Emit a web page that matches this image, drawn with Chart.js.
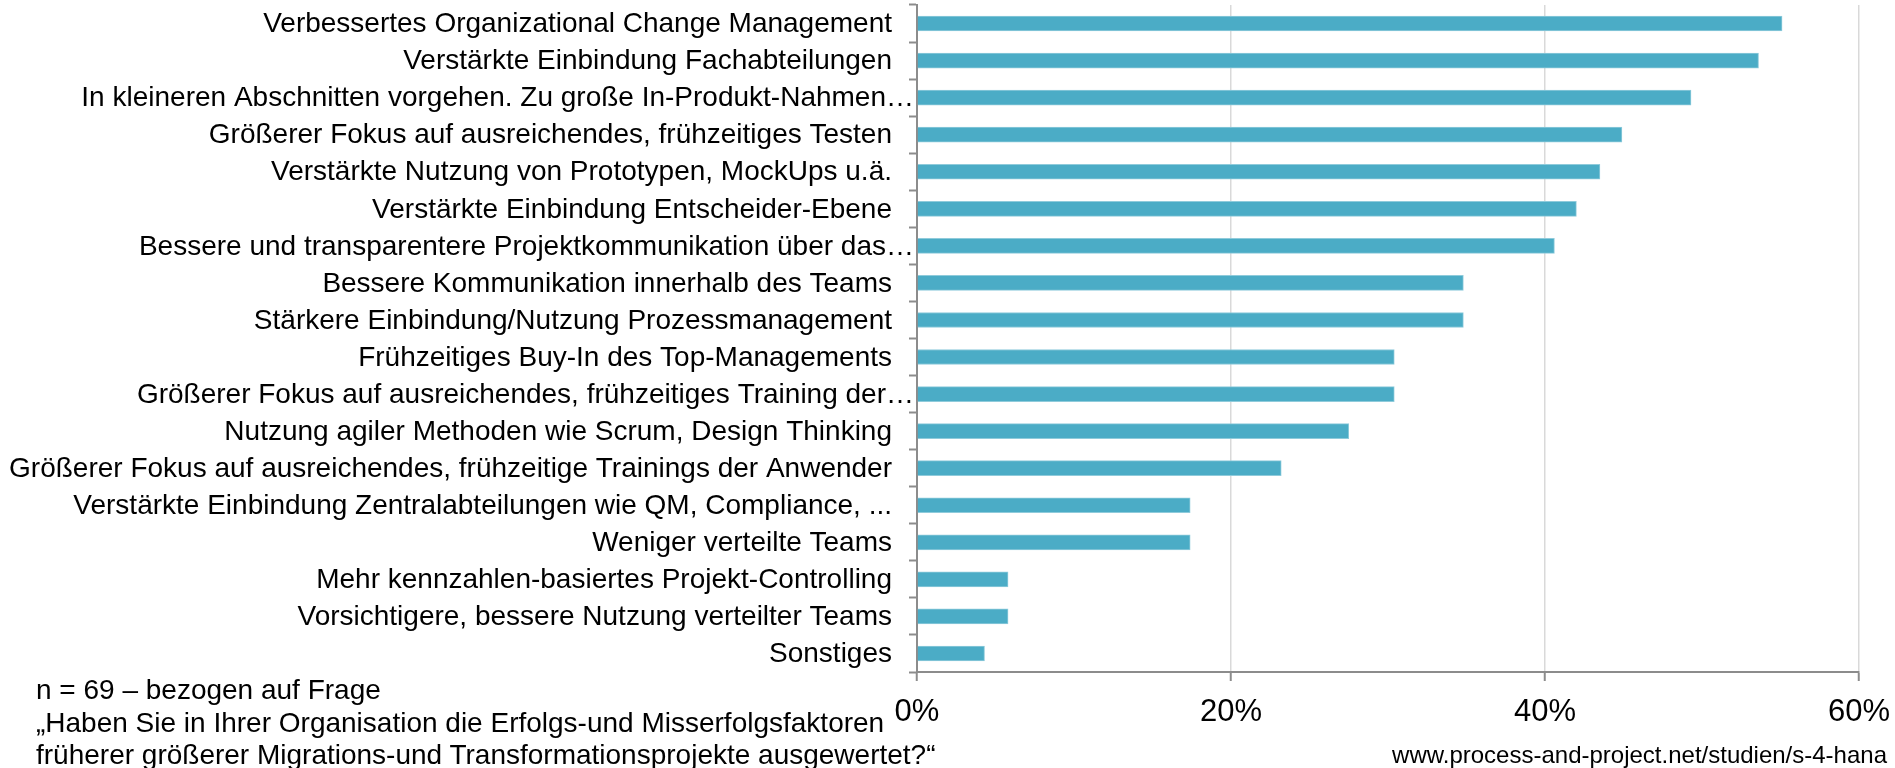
<!DOCTYPE html>
<html lang="de">
<head>
<meta charset="utf-8">
<title>Erfolgsfaktoren</title>
<script src="https://cdn.jsdelivr.net/npm/chart.js@4.4.1/dist/chart.umd.min.js"></script>
<style>
  html, body { margin: 0; padding: 0; background: #ffffff; }
  #wrap { position: relative; width: 1895px; height: 768px; overflow: hidden; }
  #wrap canvas { position: absolute; left: 0; top: 0; }
  .note { position: absolute; font-family: "Liberation Sans", Arial, sans-serif; color: #000; white-space: nowrap; }
  #foot { left: 36px; top: 674px; font-size: 28px; line-height: 32.5px; }
  #url { right: 8px; top: 741px; font-size: 24px; line-height: 28px; }
</style>
</head>
<body>
<div id="wrap">
  <canvas id="chart" width="1895" height="768"></canvas>
  <div id="foot" class="note">n = 69 – bezogen auf Frage<br>„Haben Sie in Ihrer Organisation die Erfolgs-und Misserfolgsfaktoren<br>früherer größerer Migrations-und Transformationsprojekte ausgewertet?“</div>
  <div id="url" class="note">www.process-and-project.net/studien/s-4-hana</div>
</div>
<script>
const categories = [
  "Verbessertes Organizational Change Management",
  "Verstärkte Einbindung Fachabteilungen",
  "In kleineren Abschnitten vorgehen. Zu große In-Produkt-Nahmen…",
  "Größerer Fokus auf ausreichendes, frühzeitiges Testen",
  "Verstärkte Nutzung von Prototypen, MockUps u.ä.",
  "Verstärkte Einbindung Entscheider-Ebene",
  "Bessere und transparentere Projektkommunikation über das…",
  "Bessere Kommunikation innerhalb des Teams",
  "Stärkere Einbindung/Nutzung Prozessmanagement",
  "Frühzeitiges Buy-In des Top-Managements",
  "Größerer Fokus auf ausreichendes, frühzeitiges Training der…",
  "Nutzung agiler Methoden wie Scrum, Design Thinking",
  "Größerer Fokus auf ausreichendes, frühzeitige Trainings der Anwender",
  "Verstärkte Einbindung Zentralabteilungen wie QM, Compliance, ...",
  "Weniger verteilte Teams",
  "Mehr kennzahlen-basiertes Projekt-Controlling",
  "Vorsichtigere, bessere Nutzung verteilter Teams",
  "Sonstiges"
];
const shares = [55.1, 53.6, 49.3, 44.9, 43.5, 42.0, 40.6, 34.8, 34.8, 30.4, 30.4, 27.5, 23.2, 17.4, 17.4, 5.8, 5.8, 4.3];
const xTickValues = [0, 20, 40, 60];
const xTickLabels = ["0%", "20%", "40%", "60%"];

const FONT = '"Liberation Sans", Arial, sans-serif';

const yLabelPlugin = {
  id: 'yLabels',
  afterDraw(chart) {
    const ctx = chart.ctx;
    const ys = chart.scales.y;
    const left = chart.chartArea.left;
    ctx.save();
    ctx.font = '28px ' + FONT;
    ctx.fillStyle = '#000000';
    ctx.textAlign = 'right';
    ctx.textBaseline = 'middle';
    categories.forEach((c, i) => {
      const py = ys.getPixelForValue(i);
      const px = c.endsWith('…') ? left - 3 : left - 25;
      ctx.fillText(c, px, py + 1);
    });
    ctx.restore();
  }
};

new Chart(document.getElementById('chart'), {
  type: 'bar',
  data: {
    labels: categories,
    datasets: [{
      data: shares,
      backgroundColor: '#4BACC6',
      borderColor: '#8FCBDB',
      borderWidth: 1,
      barThickness: 15
    }]
  },
  options: {
    indexAxis: 'y',
    responsive: false,
    animation: false,
    layout: { padding: { left: 0, right: 36, top: 5, bottom: 0 } },
    plugins: { legend: { display: false }, tooltip: { enabled: false } },
    scales: {
      x: {
        type: 'linear',
        min: 0,
        max: 60,
        afterBuildTicks(scale) { scale.ticks = xTickValues.map(v => ({ value: v })); },
        afterFit(scale) { scale.height = 96; scale.paddingRight = 0; scale.paddingLeft = 0; },
        ticks: {
          callback: (v) => xTickLabels[xTickValues.indexOf(v)],
          font: { family: FONT, size: 31 },
          color: '#000000',
          padding: 13,
          maxRotation: 0
        },
        grid: { color: '#D9D9D9', lineWidth: 1.5, tickColor: '#8C8C8C', tickLength: 9, tickWidth: 2 },
        border: { display: true, color: '#8C8C8C', width: 2 }
      },
      y: {
        type: 'category',
        afterFit(scale) { scale.width = 917; },
        ticks: { display: false },
        grid: { display: true, drawOnChartArea: false, offset: true, tickLength: 8, tickColor: '#8C8C8C', tickWidth: 2 },
        border: { display: true, color: '#8C8C8C', width: 2 }
      }
    }
  },
  plugins: [yLabelPlugin]
});
</script>
</body>
</html>
